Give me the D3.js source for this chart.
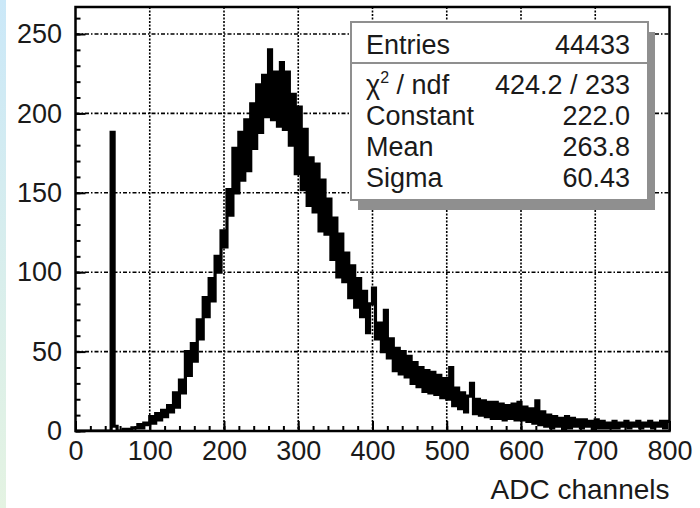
<!DOCTYPE html>
<html lang="en">
<head>
  <meta charset="UTF-8">
  <title>ADC spectrum</title>
  <script src="https://d3js.org/d3.v7.min.js"></script>
  <style>
    html, body { margin: 0; padding: 0; background: #fff; overflow: hidden; }
    svg { display: block; }
    svg text { fill: #1a1a1a; }
    .tick line { stroke: #000; stroke-width: 2; }
    .grid-h { stroke: #000; stroke-width: 1.6; stroke-dasharray: 4 2 1.5 2; }
    .grid-v { stroke: #000; stroke-width: 1.6; stroke-dasharray: 2 1.5; }
  </style>
</head>
<body>
<svg id="chart" width="700" height="508"></svg>
<script>
// histogram: 4 ADC channels per bin, 0..800
const binWidth = 4;
const counts = [
  0, 0, 0, 0, 0, 0, 0, 0, 0, 0,
  0, 0, 188, 3, 0, 0, 1, 0, 1, 2,
  2, 4, 2, 5, 4, 9, 5, 11, 7, 13,
  9, 16, 12, 24, 15, 32, 24, 50, 35, 55,
  44, 70, 58, 84, 72, 96, 82, 110, 100, 126,
  116, 152, 136, 178, 150, 188, 158, 196, 164, 206,
  178, 218, 188, 224, 198, 240, 196, 226, 192, 232,
  190, 226, 180, 212, 162, 204, 152, 190, 142, 172,
  138, 168, 126, 158, 124, 146, 108, 134, 97, 124,
  94, 112, 84, 104, 78, 96, 72, 88, 62, 80,
  90, 58, 68, 50, 76, 46, 58, 38, 52, 36,
  50, 34, 47, 30, 43, 28, 40, 25, 38, 24,
  37, 23, 35, 21, 33, 20, 40, 16, 27, 14,
  24, 12, 22, 30, 11, 20, 10, 19, 9, 18,
  8, 18, 8, 17, 7, 16, 8, 17, 7, 18,
  7, 15, 6, 14, 5, 19, 4, 12, 3, 10,
  2, 9, 3, 8, 1, 9, 2, 8, 3, 7,
  2, 7, 3, 6, 1, 7, 2, 6, 2, 5,
  2, 6, 2, 5, 3, 6, 2, 5, 3, 6,
  2, 5, 3, 6, 2, 5, 3, 6, 2, 6
];

const xTicks = [0, 100, 200, 300, 400, 500, 600, 700, 800];
const xMinor = d3.range(0, 801, 20);
const yTicks = [0, 50, 100, 150, 200, 250];
const yMinor = d3.range(0, 261, 10);
const xTitle = "ADC channels";

const statNames = ["Entries", "χ2 / ndf", "Constant", "Mean", "Sigma"];
const statValues = ["44433", "424.2 / 233", "222.0", "263.8", "60.43"];

// no serif face is available offline, so use the Arial-metric one
const font = "'Liberation Sans', Arial, sans-serif";

const W = 700, H = 508;
const plot = { left: 75.5, right: 669.5, top: 7, bottom: 431 };

const svg = d3.select("#chart");

// left light strip
const defs = svg.append("defs");
const grad = defs.append("linearGradient")
  .attr("id", "strip").attr("x1", 0).attr("y1", 0).attr("x2", 0).attr("y2", 1);
grad.append("stop").attr("offset", "0%").attr("stop-color", "#cbe8f8");
grad.append("stop").attr("offset", "100%").attr("stop-color", "#e4f3e2");
svg.append("rect").attr("x", 0).attr("y", 0).attr("width", 6).attr("height", H)
  .attr("fill", "url(#strip)");

defs.append("clipPath").attr("id", "clip")
  .append("rect")
  .attr("x", plot.left).attr("y", plot.top)
  .attr("width", plot.right - plot.left).attr("height", plot.bottom - plot.top);

const x = d3.scaleLinear().domain([0, 800]).range([plot.left, plot.right]);
const y = d3.scaleLinear().domain([0, 267]).range([plot.bottom, plot.top]);

// grid
const grid = svg.append("g");
grid.selectAll(".grid-v")
  .data(xTicks.slice(1, -1))
  .join("line")
  .attr("class", "grid-v")
  .attr("x1", d => x(d)).attr("x2", d => x(d))
  .attr("y1", plot.top).attr("y2", plot.bottom);
grid.selectAll(".grid-h")
  .data(yTicks.slice(1))
  .join("line")
  .attr("class", "grid-h")
  .attr("x1", plot.left).attr("x2", plot.right)
  .attr("y1", d => y(d)).attr("y2", d => y(d));

// histogram as step outline
const pts = counts.map((c, i) => [i * binWidth, c]);
pts.push([counts.length * binWidth, counts[counts.length - 1]]);
pts.unshift([0, 0]);
const line = d3.line()
  .x(d => x(d[0]))
  .y(d => y(d[1]))
  .curve(d3.curveStepAfter);
svg.append("path")
  .datum(pts)
  .attr("clip-path", "url(#clip)")
  .attr("fill", "none")
  .attr("stroke", "#000")
  .attr("stroke-width", 3.2)
  .attr("stroke-linejoin", "miter")
  .attr("d", line);

// axes: minor ticks
svg.append("g")
  .attr("transform", `translate(0,${plot.bottom})`)
  .call(d3.axisBottom(x).tickValues(xMinor).tickSize(-5).tickFormat(""))
  .call(g => g.select(".domain").remove());
svg.append("g")
  .attr("transform", `translate(${plot.left},0)`)
  .call(d3.axisLeft(y).tickValues(yMinor).tickSize(-5).tickFormat(""))
  .call(g => g.select(".domain").remove());

// axes: major ticks with labels
svg.append("g")
  .attr("transform", `translate(0,${plot.bottom})`)
  .call(d3.axisBottom(x).tickValues(xTicks).tickSize(-10).tickPadding(10).tickFormat(d3.format("d")))
  .call(g => g.select(".domain").remove());
svg.append("g")
  .attr("transform", `translate(${plot.left},0)`)
  .call(d3.axisLeft(y).tickValues(yTicks).tickSize(-10).tickPadding(13.5).tickFormat(d3.format("d")))
  .call(g => g.select(".domain").remove());
svg.selectAll(".tick text")
  .attr("font-family", font)
  .attr("font-size", 27)
  .attr("fill", "#1a1a1a");

// frame
svg.append("rect")
  .attr("x", plot.left).attr("y", plot.top)
  .attr("width", plot.right - plot.left).attr("height", plot.bottom - plot.top)
  .attr("fill", "none").attr("stroke", "#000").attr("stroke-width", 2.5);

// axis title
svg.append("text")
  .attr("x", plot.right).attr("y", 499)
  .attr("text-anchor", "end")
  .attr("font-size", 28)
  .attr("font-family", font)
  .text(xTitle);

// stats box
const box = { x: 351, y: 22, w: 297, h: 178 };
const stats = svg.append("g").attr("class", "stats");
stats.append("rect")
  .attr("x", box.x + 7).attr("y", box.y + 10)
  .attr("width", box.w).attr("height", box.h)
  .attr("fill", "#8f8f8f");
stats.append("rect")
  .attr("x", box.x).attr("y", box.y)
  .attr("width", box.w).attr("height", box.h)
  .attr("fill", "#fff").attr("stroke", "#8f8f8f").attr("stroke-width", 2);
stats.append("line")
  .attr("x1", box.x).attr("x2", box.x + box.w)
  .attr("y1", 63).attr("y2", 63)
  .attr("stroke", "#8f8f8f").attr("stroke-width", 2);

const rowY = [54, 94, 125, 156, 187];
statNames.forEach((name, i) => {
  const t = stats.append("text").attr("x", 366).attr("y", rowY[i])
    .attr("font-family", font).attr("font-size", 27);
  if (name.startsWith("χ2")) {
    t.append("tspan").text("χ");
    t.append("tspan").attr("font-size", 16).attr("dy", -11).text("2");
    t.append("tspan").attr("dy", 11).text(name.slice(2));
  } else {
    t.text(name);
  }
  stats.append("text")
    .attr("x", 630).attr("y", rowY[i])
    .attr("text-anchor", "end")
    .attr("font-family", font).attr("font-size", 27)
    .text(statValues[i]);
});
</script>
</body>
</html>
